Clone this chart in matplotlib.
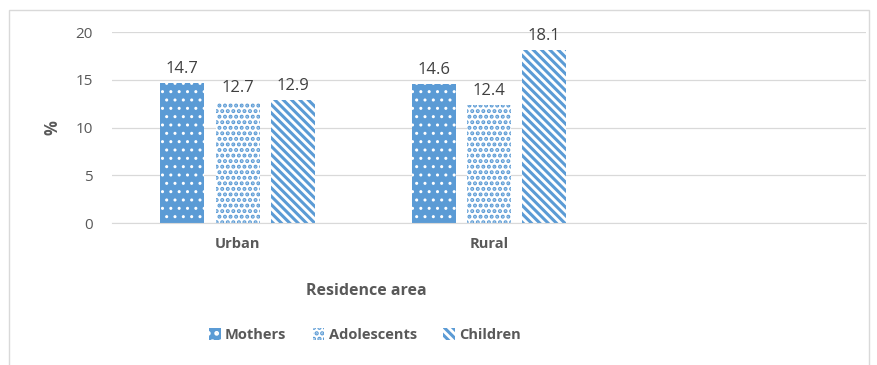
# Anaemia prevalence by residence area, grouped bars with Excel-like patterns
import numpy as np
import matplotlib.pyplot as plt
from matplotlib.patches import Rectangle

plt.rcParams['font.family'] = ['Open Sans', 'DejaVu Sans']

# Data
areas = ['Urban', 'Rural', '']
groups = ['Mothers', 'Adolescents', 'Children']
mothers = [14.7, 14.6, np.nan]
adolescents = [12.7, 12.4, np.nan]
children = [12.9, 18.1, np.nan]

blue = '#5B9BD5'
text_col = '#595959'

fig = plt.figure(figsize=(8.77, 3.65), dpi=100)
ax = fig.add_axes([112 / 877, 1 - 223 / 365, 754 / 877, 191 / 365])

# outer chart border
fig.patches.append(Rectangle((9 / 877, -0.1), 860 / 877, 1.1 - 10 / 365,
                             transform=fig.transFigure, fill=False,
                             edgecolor='#D9D9D9', linewidth=1.0))

x = np.arange(len(areas))
width = 0.176
step = 0.22

styles = [
    dict(color=blue, edgecolor='white', hatch='..', hlw=1.0),
    dict(color='white', edgecolor=blue, hatch='...', hlw=2.0),
    dict(color='white', edgecolor=blue, hatch='\\\\\\\\', hlw=2.2),
]

for i, (name, vals, st) in enumerate(zip(groups, [mothers, adolescents, children], styles)):
    plt.rcParams['hatch.linewidth'] = st['hlw']
    bars = ax.bar(x + (i - 1) * step, vals, width, color=st['color'],
                  edgecolor=st['edgecolor'], hatch=st['hatch'], linewidth=0,
                  label=name)
    for b in bars:
        try:
            b.set_hatch_linewidth(st['hlw'])
        except AttributeError:
            pass
    for xi, v in zip(x + (i - 1) * step, vals):
        if not np.isnan(v):
            ax.text(xi, v + 0.6, f'{v:.1f}', ha='center', va='bottom',
                    fontsize=12, color='#404040')

ax.set_xlim(-0.5, 2.5)
ax.set_ylim(0, 20)
ax.set_yticks([0, 5, 10, 15, 20])
ax.set_xticks(x)
ax.set_xticklabels(areas, fontsize=10.5, fontweight='bold', color=text_col)
ax.tick_params(axis='y', length=0, pad=14, labelsize=11, labelcolor=text_col)
ax.tick_params(axis='x', length=0, pad=10)
ax.grid(axis='y', color='#D9D9D9', linewidth=0.9)
ax.set_axisbelow(True)
for s in ['top', 'right', 'left']:
    ax.spines[s].set_visible(False)
ax.spines['bottom'].set_color('#D9D9D9')

ax.set_ylabel('%', fontsize=12, fontweight='bold', color=text_col, labelpad=10)
ax.set_xlabel('Residence area', fontsize=11.5, fontweight='bold', color=text_col)
ax.xaxis.set_label_coords((366 - 112) / 754, -(283 - 223) / 191)

leg = ax.legend(loc='center', bbox_to_anchor=(365 / 877, 1 - 335 / 365),
                bbox_transform=fig.transFigure, ncol=3, frameon=False,
                handlelength=0.8, handleheight=0.8, handletextpad=0.3,
                columnspacing=1.8, prop={'size': 10.5, 'weight': 'bold'},
                labelcolor=text_col)

fig.savefig('out.png', dpi=100)
